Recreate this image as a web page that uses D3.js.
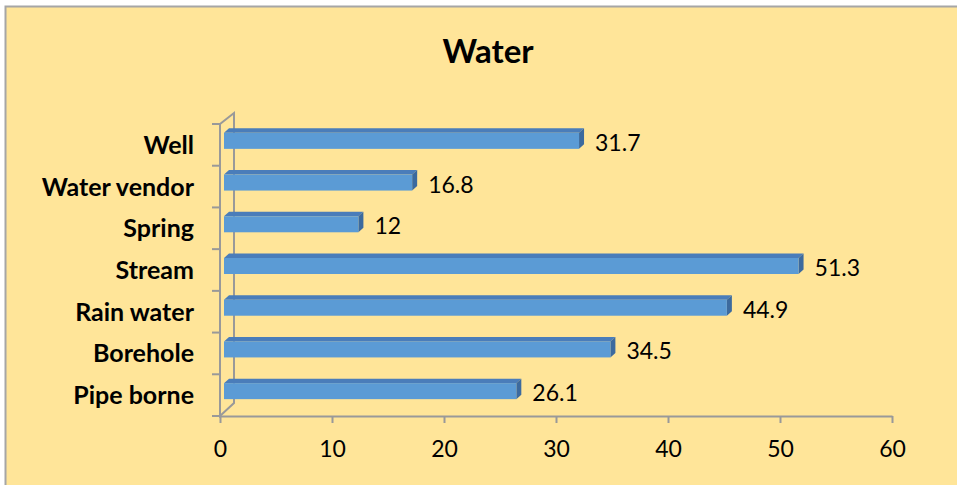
<!DOCTYPE html>
<html>
<head>
<meta charset="utf-8">
<script src="https://cdn.jsdelivr.net/npm/d3@7/dist/d3.min.js"></script>
<style>
  html, body { margin: 0; padding: 0; background: #ffffff; }
  svg { display: block; }
  text { font-family: Lato, "Open Sans", sans-serif; fill: #000; }
</style>
</head>
<body>
<svg id="chart" width="957" height="485"></svg>
<script>
// Water source categories (top to bottom) and their percentages
const categories = ["Well", "Water vendor", "Spring", "Stream", "Rain water", "Borehole", "Pipe borne"];
const values = [31.7, 16.8, 12, 51.3, 44.9, 34.5, 26.1];
const xTicks = [0, 10, 20, 30, 40, 50, 60];
const title = "Water";

const W = 957, H = 485;
const svg = d3.select("#chart");

// chart area background and border (only top/left edges fall inside the frame)
svg.append("rect").attr("x", 5).attr("y", 6).attr("width", W).attr("height", H)
  .attr("fill", "#ffe599");
svg.append("path").attr("d", `M5.5,${H} V6.5 H${W}`)
  .attr("fill", "none").attr("stroke", "#a6a6a6").attr("stroke-width", 2);

// plot frame (front plane)
const x0 = 220, x1 = 892, yTop = 124, yBot = 416;
// oblique depth of the back wall
const depthX = 14, depthY = -13;

const x = d3.scaleLinear().domain([0, 60]).range([x0, x1]);
const y = d3.scaleBand().domain(categories).range([yTop, yBot]).paddingInner(0).paddingOuter(0);

const axisColor = "#999999";

// title
svg.append("text").attr("x", 488).attr("y", 63).attr("text-anchor", "middle")
  .style("font-size", "33px").style("font-weight", "bold").text(title);

// walls: front left edge, back wall edge, connecting diagonals
const wall = svg.append("g").attr("fill", "none").attr("stroke", axisColor).attr("stroke-width", 2);
wall.append("path").attr("d",
  `M${x0},${yTop} L${x0 + depthX},${yTop + depthY + 2} V${yBot + depthY} L${x0},${yBot} Z`);

// x axis along the front floor edge
const xAxis = d3.axisBottom(x).tickValues(xTicks).tickSize(7).tickSizeOuter(0).tickPadding(18);
const gx = svg.append("g").attr("transform", `translate(0,${yBot})`).call(xAxis);
gx.select(".domain").attr("stroke", axisColor).attr("stroke-width", 2);
gx.selectAll(".tick line").attr("stroke", axisColor).attr("stroke-width", 2);
gx.selectAll(".tick text").style("font-size", "23px").style("font-family", "Lato, sans-serif")
  .attr("fill", "#000").attr("dy", "0.71em");

// y axis: tick marks at category boundaries
const bounds = categories.map(c => y(c)).concat([yBot]);
svg.append("g").selectAll("line").data(bounds).join("line")
  .attr("x1", x0 - 8).attr("x2", x0).attr("y1", d => d).attr("y2", d => d)
  .attr("stroke", axisColor).attr("stroke-width", 2);

// category labels
svg.append("g").selectAll("text").data(categories).join("text")
  .attr("x", 194).attr("y", d => y(d) + y.bandwidth() / 2 + 9)
  .attr("text-anchor", "end")
  .style("font-size", "25px").style("font-weight", "bold")
  .text(d => d);

// 3D bars: front face, top face, right side face
const barH = 16;
const fx = 4, fy = -4;     // front face offset into depth
const dx = 5, dy = -4.5;   // bar depth
const bars = svg.append("g").selectAll("g").data(categories.map((c, i) => ({c, v: values[i]}))).join("g");

bars.each(function(d) {
  const g = d3.select(this);
  const cy = y(d.c) + y.bandwidth() / 2 + fy;
  const top = cy - barH / 2, bot = cy + barH / 2;
  const left = x(0) + fx, right = x(d.v) + fx;
  g.append("path")
    .attr("d", `M${left},${top} L${left + dx},${top + dy} L${right + dx},${top + dy} L${right},${top} Z`)
    .attr("fill", "#4a7dba");
  g.append("path")
    .attr("d", `M${right},${top} L${right + dx},${top + dy} L${right + dx},${bot + dy} L${right},${bot} Z`)
    .attr("fill", "#3c6a9e");
  g.append("rect").attr("x", left).attr("y", top).attr("width", right - left).attr("height", barH)
    .attr("fill", "#5b9bd5");
  g.append("text").attr("x", right + 16).attr("y", cy + 10)
    .style("font-size", "23px").text(d.v);
});
</script>
</body>
</html>
